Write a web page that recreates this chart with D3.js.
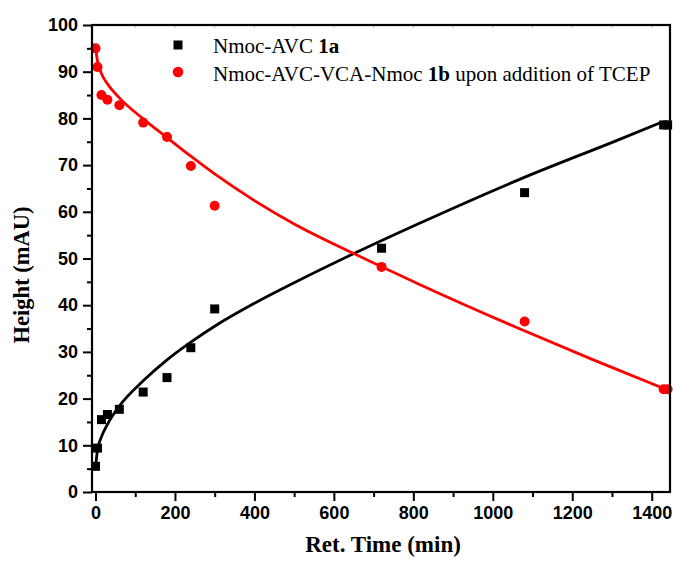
<!DOCTYPE html>
<html>
<head>
<meta charset="utf-8">
<script src="https://cdn.jsdelivr.net/npm/d3@7"></script>
<style>
  body { margin: 0; background: #fff; }
  #chartContainer { width: 673px; height: 565px; }
</style>
</head>
<body>
<div id="chartContainer"></div>
<script>
// measured points, Nmoc-AVC 1a
var timeA = [0, 5, 15, 30, 60, 120, 180, 240, 300, 720, 1080, 1430, 1440];
var heightA = [5.5, 9.4, 15.5, 16.6, 17.7, 21.4, 24.5, 30.9, 39.2, 52.2, 64.1, 78.6, 78.6];

// measured points, Nmoc-AVC-VCA-Nmoc 1b
var timeB = [0, 5, 15, 30, 60, 120, 180, 240, 300, 720, 1080, 1430, 1440];
var heightB = [95.0, 91.0, 85.0, 84.0, 82.8, 79.1, 76.0, 69.8, 61.3, 48.2, 36.5, 22.0, 22.0];

// fitted curves
var fitTimeA = [1, 5, 15, 30, 60, 120, 180, 240, 300, 400, 500, 649, 817, 1069, 1313, 1420];
var fitA = [6.0, 9.0, 11.8, 14.5, 18.4, 23.8, 28.3, 32.1, 35.5, 40.4, 44.8, 51.0, 57.6, 67.0, 75.3, 79.0];
var fitTimeB = [0, 5, 15, 30, 60, 120, 180, 240, 300, 400, 500, 649, 817, 1069, 1250, 1435];
var fitB = [95.3, 92.3, 89.6, 87.4, 84.4, 79.9, 75.9, 71.9, 68.1, 62.4, 57.4, 51.1, 44.4, 34.9, 28.4, 22.0];

var xTicks = [0, 200, 400, 600, 800, 1000, 1200, 1400];
var yTicks = [0, 10, 20, 30, 40, 50, 60, 70, 80, 90, 100];

var plotL = 92, plotR = 670, plotT = 25, plotB = 492;
var numFont = "'Liberation Sans', Arial, sans-serif";
var textFont = "'Liberation Serif', 'Times New Roman', serif";

var svg = d3.select("#chartContainer")
  .append("svg")
  .attr("width", 673)
  .attr("height", 565);

svg.append("rect").attr("width", 673).attr("height", 565).attr("fill", "#fff");

var x = d3.scaleLinear().domain([-8.8, 1446]).range([plotL, plotR]);
var y = d3.scaleLinear().domain([0, 100]).range([plotB, plotT]);

// bottom axis: majors every 200, minors every 100
var xMinor = d3.range(100, 1401, 200);
svg.append("g")
  .attr("transform", "translate(0," + plotB + ")")
  .call(d3.axisBottom(x).tickValues(xTicks).tickSize(9).tickSizeOuter(0).tickFormat(d3.format("d")))
  .call(function(g) {
    g.select(".domain").remove();
    g.selectAll("line").attr("stroke", "#000").attr("stroke-width", 2);
    g.selectAll("text")
      .attr("font-family", numFont).attr("font-weight", "bold")
      .attr("font-size", 18).attr("fill", "#000").attr("y", 14);
  });
svg.append("g")
  .attr("transform", "translate(0," + plotB + ")")
  .call(d3.axisBottom(x).tickValues(xMinor).tickSize(5).tickFormat(""))
  .call(function(g) {
    g.select(".domain").remove();
    g.selectAll("line").attr("stroke", "#000").attr("stroke-width", 2);
  });

// left axis: majors every 10, minors every 5
var yMinor = d3.range(5, 100, 10);
svg.append("g")
  .attr("transform", "translate(" + plotL + ",0)")
  .call(d3.axisLeft(y).tickValues(yTicks).tickSize(9).tickFormat(d3.format("d")))
  .call(function(g) {
    g.select(".domain").remove();
    g.selectAll("line").attr("stroke", "#000").attr("stroke-width", 2);
    g.selectAll("text")
      .attr("font-family", numFont).attr("font-weight", "bold")
      .attr("font-size", 18).attr("fill", "#000").attr("x", -14);
  });
svg.append("g")
  .attr("transform", "translate(" + plotL + ",0)")
  .call(d3.axisLeft(y).tickValues(yMinor).tickSize(5).tickFormat(""))
  .call(function(g) {
    g.select(".domain").remove();
    g.selectAll("line").attr("stroke", "#000").attr("stroke-width", 2);
  });

// faint inner ticks along the top edge
svg.append("g")
  .selectAll("line")
  .data(d3.range(100, 1401, 100))
  .enter().append("line")
  .attr("x1", function(d) { return x(d); })
  .attr("x2", function(d) { return x(d); })
  .attr("y1", plotT)
  .attr("y2", plotT + 3)
  .attr("stroke", "#bbb")
  .attr("stroke-width", 1);

// fit curves
var lineA = d3.line()
  .x(function(d, i) { return x(fitTimeA[i]); })
  .y(function(d) { return y(d); })
  .curve(d3.curveMonotoneX);
var lineB = d3.line()
  .x(function(d, i) { return x(fitTimeB[i]); })
  .y(function(d) { return y(d); })
  .curve(d3.curveMonotoneX);

svg.append("path")
  .datum(fitA)
  .attr("fill", "none")
  .attr("stroke", "#000")
  .attr("stroke-width", 2.8)
  .attr("d", lineA);

svg.append("path")
  .datum(fitB)
  .attr("fill", "none")
  .attr("stroke", "#ff0000")
  .attr("stroke-width", 2.8)
  .attr("d", lineB);

// markers
var sq = 9;
svg.append("g")
  .selectAll("rect")
  .data(heightA)
  .enter().append("rect")
  .attr("x", function(d, i) { return x(timeA[i]) - sq / 2; })
  .attr("y", function(d) { return y(d) - sq / 2; })
  .attr("width", sq)
  .attr("height", sq)
  .attr("fill", "#000");

svg.append("g")
  .selectAll("circle")
  .data(heightB)
  .enter().append("circle")
  .attr("cx", function(d, i) { return x(timeB[i]); })
  .attr("cy", function(d) { return y(d); })
  .attr("r", 5)
  .attr("fill", "#ff0000");

// frame
svg.append("rect")
  .attr("x", plotL)
  .attr("y", plotT)
  .attr("width", plotR - plotL)
  .attr("height", plotB - plotT)
  .attr("fill", "none")
  .attr("stroke", "#000")
  .attr("stroke-width", 2.2);

// legend
svg.append("rect")
  .attr("x", 178 - 4.5).attr("y", 45 - 4.5)
  .attr("width", 9).attr("height", 9)
  .attr("fill", "#000");
svg.append("circle")
  .attr("cx", 178).attr("cy", 72).attr("r", 5.3)
  .attr("fill", "#ff0000");

var legA = svg.append("text")
  .attr("x", 213).attr("y", 52.5)
  .attr("font-family", textFont).attr("font-size", 21).attr("fill", "#000");
legA.append("tspan").text("Nmoc-AVC ");
legA.append("tspan").attr("font-weight", "bold").text("1a");

var legB = svg.append("text")
  .attr("x", 213).attr("y", 80.5)
  .attr("font-family", textFont).attr("font-size", 21).attr("fill", "#000");
legB.append("tspan").text("Nmoc-AVC-VCA-Nmoc ");
legB.append("tspan").attr("font-weight", "bold").text("1b");
legB.append("tspan").text(" upon addition of TCEP");

// axis titles
svg.append("text")
  .attr("x", 383).attr("y", 552)
  .attr("text-anchor", "middle")
  .attr("font-family", textFont).attr("font-weight", "bold")
  .attr("font-size", 23).attr("fill", "#000")
  .text("Ret. Time (min)");

svg.append("text")
  .attr("transform", "translate(29,275) rotate(-90)")
  .attr("text-anchor", "middle")
  .attr("font-family", textFont).attr("font-weight", "bold")
  .attr("font-size", 22.5).attr("fill", "#000")
  .text("Height (mAU)");
</script>
</body>
</html>
